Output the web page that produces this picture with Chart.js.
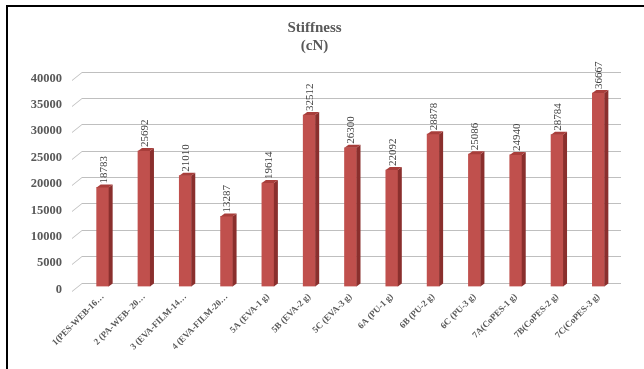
<!DOCTYPE html>
<html>
<head>
<meta charset="utf-8">
<script src="https://cdn.jsdelivr.net/npm/chart.js@4/dist/chart.umd.min.js"></script>
<style>
  html, body { margin: 0; padding: 0; background: #fff; }
  #wrap { position: relative; width: 644px; height: 369px; overflow: hidden; }
  #frame { position: absolute; left: 6px; top: 5px; width: 700px; height: 400px;
           border-left: 2px solid #000; border-top: 2px solid #000; }
  canvas { position: absolute; left: 0; top: 0; }
</style>
</head>
<body>
<div id="wrap">
  <div id="frame"></div>
  <canvas id="chart" width="644" height="369"></canvas>
</div>
<script>
// Stiffness per sample (cN)
const categories = [
  '1(PES-WEB-16…', '2 (PA-WEB- 20…', '3 (EVA-FILM-14…', '4 (EVA-FILM-20…',
  '5A (EVA-1 g)', '5B (EVA-2 g)', '5C (EVA-3 g)',
  '6A (PU-1 g)', '6B (PU-2 g)', '6C (PU-3 g)',
  '7A(CoPES-1 g)', '7B(CoPES-2 g)', '7C(CoPES-3 g)'
];
const stiffness = [18783, 25692, 21010, 13287, 19614, 32512, 26300, 22092, 28878, 25086, 24940, 28784, 36667];
const yTicks = [0, 5000, 10000, 15000, 20000, 25000, 30000, 35000, 40000];

const SERIF = '"Liberation Serif", "Times New Roman", serif';
const GREY = '#595959';
const GRID = '#BFBFBF';
const DEPTH_X = 4, DEPTH_Y = 3;
// back wall sits 4px above the front plane; in value units over the 211px plot
const BACK = 4 * 40000 / 211;

// back-wall gridlines + slanted floor edge, drawn as thin fills
function drawGrid(chart) {
  const ctx = chart.ctx;
  const area = chart.chartArea;
  const yScale = chart.scales.y;
  ctx.save();
  ctx.fillStyle = GRID;
  for (const v of yTicks) {
    const yf = Math.round(yScale.getPixelForValue(v));
    ctx.fillRect(area.left, yf - 4, area.right + 2 - area.left, 1);
    ctx.beginPath();
    ctx.moveTo(area.left - 10, yf + 4);
    ctx.lineTo(area.left, yf - 4);
    ctx.lineTo(area.left, yf - 3);
    ctx.lineTo(area.left - 10, yf + 5);
    ctx.closePath();
    ctx.fill();
  }
  ctx.restore();
}

// side + top faces of the bars and the rotated value labels
function drawBars3d(chart) {
  const ctx = chart.ctx;
  const meta = chart.getDatasetMeta(0);
  ctx.save();
  meta.data.forEach((bar, i) => {
    const { x, y, base, width } = bar.getProps(['x', 'y', 'base', 'width'], true);
    const l = x - width / 2, r = x + width / 2;
    ctx.fillStyle = '#8A2F2D';
    ctx.beginPath();
    ctx.moveTo(r, y);
    ctx.lineTo(r + DEPTH_X, y - DEPTH_Y);
    ctx.lineTo(r + DEPTH_X, base - DEPTH_Y);
    ctx.lineTo(r, base);
    ctx.closePath();
    ctx.fill();
    ctx.fillStyle = '#A83E3B';
    ctx.beginPath();
    ctx.moveTo(l, y);
    ctx.lineTo(l + DEPTH_X, y - DEPTH_Y);
    ctx.lineTo(r + DEPTH_X, y - DEPTH_Y);
    ctx.lineTo(r, y);
    ctx.closePath();
    ctx.fill();

    ctx.save();
    ctx.translate(x + 1, y - DEPTH_Y - 1);
    ctx.rotate(-Math.PI / 2);
    ctx.fillStyle = '#404040';
    ctx.font = '11px ' + SERIF;
    ctx.textAlign = 'left';
    ctx.textBaseline = 'middle';
    ctx.fillText(String(stiffness[i]), 0, 0);
    ctx.restore();
  });
  ctx.restore();
}

const plugin3d = {
  id: 'plugin3d',
  beforeDatasetsDraw(chart) { drawGrid(chart); },
  afterDatasetsDraw(chart) { drawBars3d(chart); }
};

new Chart(document.getElementById('chart'), {
  type: 'bar',
  data: {
    labels: categories,
    datasets: [{
      data: stiffness,
      backgroundColor: '#C0504D',
      borderWidth: 0,
      barThickness: 12
    }]
  },
  options: {
    responsive: false,
    animation: false,
    devicePixelRatio: 1,
    layout: { padding: { left: 10, right: 25, top: 0, bottom: 0 } },
    plugins: {
      legend: { display: false },
      tooltip: { enabled: false },
      title: {
        display: true,
        text: ['Stiffness', '(cN)'],
        color: GREY,
        font: { family: SERIF, size: 15, weight: 'bold', lineHeight: 1.2 },
        padding: { top: 19.5, bottom: 16 }
      }
    },
    scales: {
      x: {
        grid: { display: false },
        border: { display: false },
        ticks: {
          color: GREY,
          font: { family: SERIF, size: 9, weight: 'bold' },
          minRotation: 45,
          maxRotation: 45,
          autoSkip: false,
          padding: -3
        },
        afterFit(scale) { scale.height = 82.5; }
      },
      y: {
        min: 0,
        max: 40000 + BACK,
        grid: { display: false, drawTicks: false },
        border: { display: false },
        afterBuildTicks(scale) { scale.ticks = yTicks.map(v => ({ value: v })); },
        ticks: {
          color: GREY,
          font: { family: SERIF, size: 12.5, weight: 'bold' },
          padding: 20,
          labelOffset: 3,
          callback: v => String(v)
        },
        afterFit(scale) { scale.width = 72; }
      }
    }
  },
  plugins: [plugin3d]
});
</script>
</body>
</html>
